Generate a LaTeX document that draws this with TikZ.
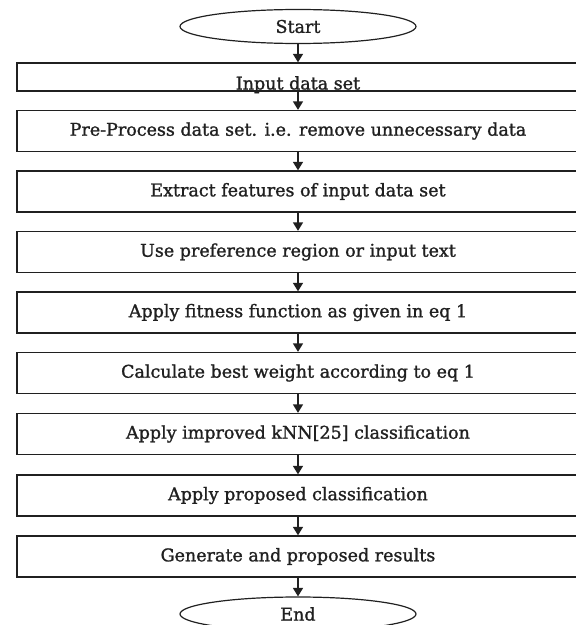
\documentclass[tikz,border=0pt]{standalone}
\usepackage{fontspec}
\setmainfont{DejaVu Serif}
\newfontfamily\flowfont[FakeBold=1.3]{DejaVu Serif}
\usetikzlibrary{shapes.geometric,arrows.meta}
\definecolor{inkgray}{HTML}{202020}

\begin{document}
\begin{tikzpicture}[
  block/.style={rectangle, draw=inkgray, line width=1.3bp, minimum width=562bp, minimum height=41bp, inner sep=0pt, text=inkgray},
  term/.style={ellipse, draw=inkgray, line width=1.2bp, minimum width=236bp, minimum height=34bp, inner sep=0pt, text=inkgray},
  flow/.style={-{Triangle[width=10bp,length=8.5bp]}, line width=1.4bp, draw=inkgray, fill=inkgray},
  node distance=60.5bp,
  font=\flowfont\fontsize{17.5bp}{20bp}\selectfont
]
\useasboundingbox (-298bp,26.5bp) rectangle (278bp,-598.5bp);

\node[term] (start) {Start};
\node[block, below of=start, node distance=50.5bp, minimum height=28bp, text height=25bp, text depth=0bp] (input) {Input data set};
\node[block, below of=input, node distance=54bp] (preproc) {Pre-Process data set. i.e. remove unnecessary data};
\node[block, below of=preproc] (extract) {Extract features of input data set};
\node[block, below of=extract] (region) {Use preference region or input text};
\node[block, below of=region] (fitness) {Apply fitness function as given in eq 1};
\node[block, below of=fitness] (weight) {Calculate best weight according to eq 1};
\node[block, below of=weight, node distance=61bp] (knn) {Apply improved kNN[25] classification};
\node[block, below of=knn, node distance=61.5bp] (propcls) {Apply proposed classification};
\node[block, below of=propcls, node distance=61bp] (results) {Generate and proposed results};
\node[term, below of=results, node distance=57.5bp] (end) {End};

\draw[flow] (start) -- (input);
\draw[flow] (input) -- (preproc);
\draw[flow] (preproc) -- (extract);
\draw[flow] (extract) -- (region);
\draw[flow] (region) -- (fitness);
\draw[flow] (fitness) -- (weight);
\draw[flow] (weight) -- (knn);
\draw[flow] (knn) -- (propcls);
\draw[flow] (propcls) -- (results);
\draw[flow] (results) -- (end);
\end{tikzpicture}
\end{document}
